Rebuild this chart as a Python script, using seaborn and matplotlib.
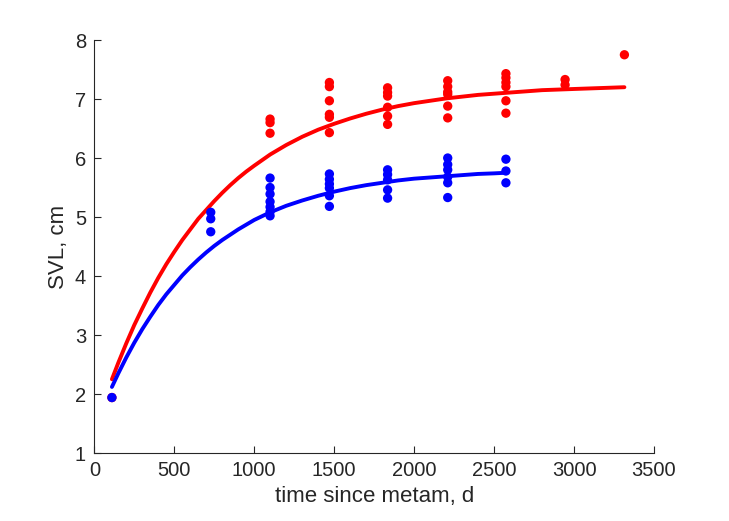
import numpy as np
import pandas as pd
import matplotlib
matplotlib.use("Agg")
import matplotlib.pyplot as plt
import seaborn as sns

# measured points (days since metamorphosis, SVL in cm)
red_t = [110,
         1099, 1099, 1099,
         1470, 1470, 1470, 1470, 1470, 1470,
         1834, 1834, 1834, 1834, 1834, 1834,
         2210, 2210, 2210, 2210, 2210, 2210,
         2574, 2574, 2574, 2574, 2574, 2574,
         2944, 2944,
         3315]
red_svl = [1.94,
           6.66, 6.60, 6.42,
           7.28, 7.21, 6.97, 6.74, 6.69, 6.43,
           7.19, 7.11, 7.05, 6.86, 6.71, 6.57,
           7.31, 7.21, 7.12, 7.08, 6.88, 6.68,
           7.43, 7.36, 7.28, 7.21, 6.97, 6.76,
           7.33, 7.24,
           7.75]

blue_t = [110,
          728, 728, 728,
          1099, 1099, 1099, 1099, 1099, 1099, 1099,
          1470, 1470, 1470, 1470, 1470, 1470,
          1834, 1834, 1834, 1834, 1834,
          2210, 2210, 2210, 2210, 2210, 2210,
          2574, 2574, 2574]
blue_svl = [1.94,
            5.08, 4.97, 4.75,
            5.66, 5.50, 5.39, 5.26, 5.17, 5.09, 5.02,
            5.73, 5.64, 5.56, 5.49, 5.36, 5.18,
            5.80, 5.72, 5.63, 5.46, 5.32,
            6.00, 5.89, 5.80, 5.68, 5.58, 5.33,
            5.98, 5.78, 5.58]

# fitted growth curves
red_fit_t = [110, 150, 200, 250, 300, 350, 400, 450, 500, 550, 600, 650, 700,
             750, 800, 850, 900, 950, 1000, 1100, 1200, 1300, 1400, 1500,
             1600, 1700, 1800, 1900, 2000, 2200, 2400, 2600, 2800, 3000, 3315]
red_fit_svl = [2.25, 2.53, 2.86, 3.17, 3.45, 3.72, 3.97, 4.20, 4.41, 4.61, 4.79, 4.97, 5.12,
               5.27, 5.41, 5.54, 5.66, 5.77, 5.87, 6.06, 6.22, 6.36, 6.48, 6.58,
               6.67, 6.75, 6.82, 6.88, 6.93, 7.01, 7.07, 7.11, 7.15, 7.17, 7.20]

blue_fit_t = [110, 150, 200, 250, 300, 350, 400, 450, 500, 550, 600, 650, 700,
              750, 800, 850, 900, 950, 1000, 1100, 1200, 1300, 1400, 1500,
              1600, 1700, 1800, 1900, 2000, 2100, 2200, 2300, 2400, 2500, 2574]
blue_fit_svl = [2.12, 2.35, 2.62, 2.87, 3.10, 3.31, 3.51, 3.69, 3.85, 4.01, 4.15, 4.28, 4.40,
                4.51, 4.61, 4.70, 4.79, 4.87, 4.95, 5.08, 5.19, 5.28, 5.36, 5.43,
                5.49, 5.54, 5.58, 5.62, 5.65, 5.67, 5.69, 5.71, 5.73, 5.74, 5.75]

red_pts = pd.DataFrame({"t": red_t, "svl": red_svl})
blue_pts = pd.DataFrame({"t": blue_t, "svl": blue_svl})
red_fit = pd.DataFrame({"t": red_fit_t, "svl": red_fit_svl})
blue_fit = pd.DataFrame({"t": blue_fit_t, "svl": blue_fit_svl})

sns.set_style("ticks")
plt.rcParams["font.family"] = ["Liberation Sans", "DejaVu Sans"]

fig = plt.figure(figsize=(7.29, 5.21), dpi=100)
ax = fig.add_axes([0.1294, 0.1305, 0.7677, 0.7927])

sns.scatterplot(data=red_pts, x="t", y="svl", color="#ff0000", s=45,
                edgecolor="none", ax=ax, zorder=3)
sns.scatterplot(data=blue_pts, x="t", y="svl", color="#0000ff", s=45,
                edgecolor="none", ax=ax, zorder=3)
sns.lineplot(data=red_fit, x="t", y="svl", color="#ff0000", linewidth=2.8,
             estimator=None, ax=ax, zorder=2)
sns.lineplot(data=blue_fit, x="t", y="svl", color="#0000ff", linewidth=2.8,
             estimator=None, ax=ax, zorder=2)

ax.set_xlim(0, 3500)
ax.set_ylim(1, 8)
ax.set_xticks(range(0, 3501, 500))
ax.set_yticks(range(1, 9))
ax.set_xlabel("time since metam, d", fontsize=16, color="#262626")
ax.set_ylabel("SVL, cm", fontsize=16, color="#262626")
ax.tick_params(direction="in", length=5, width=0.8, labelsize=14.5,
               colors="#262626", pad=6)
for side in ["top", "right"]:
    ax.spines[side].set_visible(False)
for side in ["left", "bottom"]:
    ax.spines[side].set_color("#262626")
    ax.spines[side].set_linewidth(0.8)

fig.savefig("out.png", dpi=100, facecolor="white")
